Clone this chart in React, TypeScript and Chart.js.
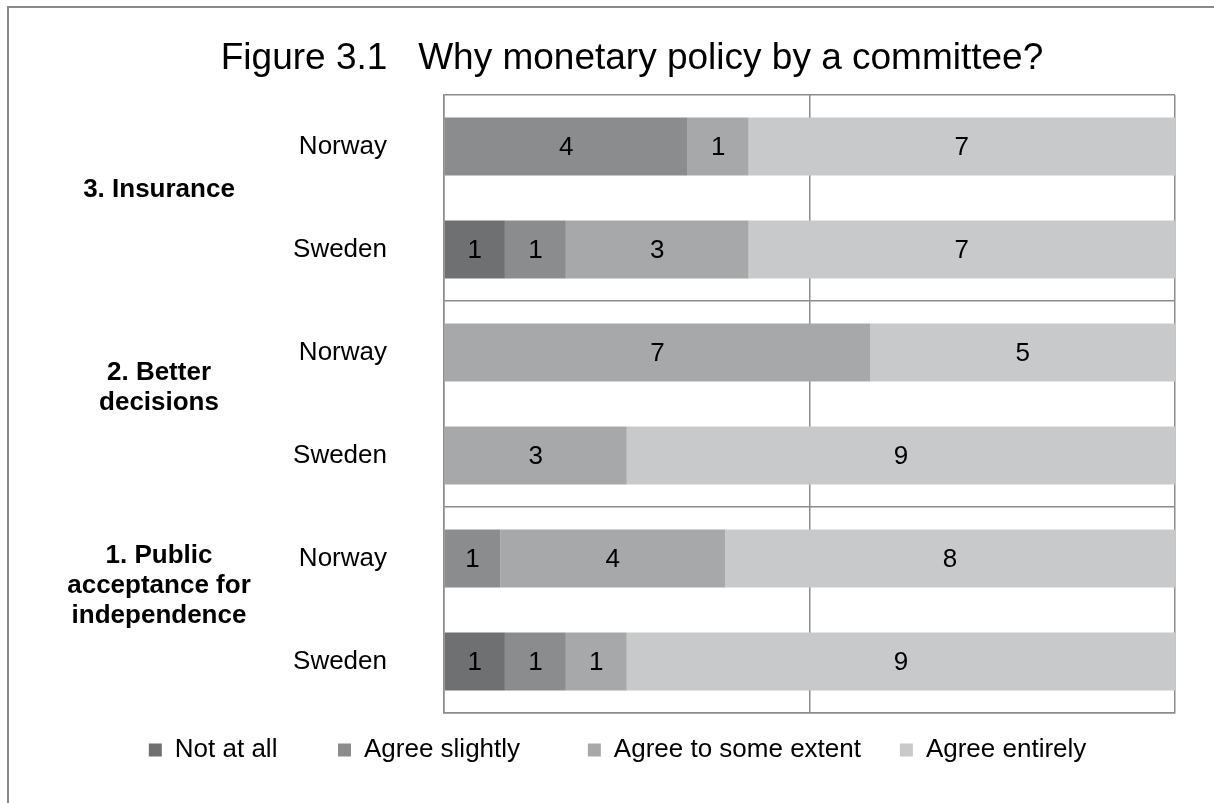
import React, { useEffect, useRef } from 'react';
import { Chart, registerables } from 'chart.js';

Chart.register(...registerables);

const categories = ['Norway', 'Sweden', 'Norway', 'Sweden', 'Norway', 'Sweden'];
const groupLabels = [['3. Insurance'], ['2. Better', 'decisions'], ['1. Public', 'acceptance for', 'independence']];
const seriesNames = ['Not at all', 'Agree slightly', 'Agree to some extent', 'Agree entirely'];
const notAtAll = [0, 1, 0, 0, 0, 1];
const agreeSlightly = [4, 1, 0, 0, 1, 1];
const agreeSomeExtent = [1, 3, 7, 3, 4, 1];
const agreeEntirely = [7, 7, 5, 9, 8, 9];
const titleText = 'Figure 3.1   Why monetary policy by a committee?';

const seriesColors = ['#6e7072', '#8a8c8e', '#a6a8a9', '#c8c9cb'];
const GRID = '#8c8c8c';
const FONT = '"Liberation Sans", Arial, sans-serif';
const legendGaps = [7, 8, 4, 4];

export default function App() {
  const ref = useRef<HTMLCanvasElement | null>(null);

  useEffect(() => {
    if (!ref.current) return;
    Chart.defaults.font.family = FONT;
    const counts = [notAtAll, agreeSlightly, agreeSomeExtent, agreeEntirely];
    const totals = categories.map((_, i) => counts.reduce((s, a) => s + a[i], 0));

    const valueLabels = {
      id: 'valueLabels',
      afterDatasetsDraw(chart: any) {
        const ctx = chart.ctx;
        ctx.save();
        ctx.font = `26px ${FONT}`;
        ctx.fillStyle = '#000';
        ctx.textAlign = 'center';
        ctx.textBaseline = 'middle';
        chart.data.datasets.forEach((_ds: any, k: number) => {
          const meta = chart.getDatasetMeta(k);
          meta.data.forEach((el: any, i: number) => {
            const c = counts[k][i];
            if (!c) return;
            const p = el.getProps(['x', 'y', 'base'], true);
            ctx.fillText(String(c), (p.x + p.base) / 2, p.y + 1);
          });
        });
        ctx.restore();
      },
    };

    const groupLabelPlugin = {
      id: 'groupLabels',
      afterDraw(chart: any) {
        const ctx = chart.ctx;
        const ys = chart.scales.y;
        ctx.save();
        ctx.font = `bold 26px ${FONT}`;
        ctx.fillStyle = '#000';
        ctx.textAlign = 'center';
        ctx.textBaseline = 'middle';
        groupLabels.forEach((lines, g) => {
          const a = ys.getPixelForTick(g * 2);
          const b = ys.getPixelForTick(g * 2 + 1);
          const cy = (a + b) / 2 - 8 * lines.length;
          const lh = 30;
          lines.forEach((t, j) => {
            ctx.fillText(t, 150, cy + (j - (lines.length - 1) / 2) * lh);
          });
        });
        ctx.restore();
      },
    };

    const chart = new Chart(ref.current, {
      type: 'bar',
      data: {
        labels: categories,
        datasets: counts.map((arr, k) => ({
          label: seriesNames[k],
          data: arr.map((v, i) => (v / totals[i]) * 100),
          backgroundColor: seriesColors[k],
          borderWidth: 0,
          barPercentage: 0.565,
          categoryPercentage: 1,
        })),
      },
      options: {
        indexAxis: 'y',
        animation: false,
        responsive: false,
        devicePixelRatio: 1,
        layout: { padding: { left: 0, right: 0, top: 0, bottom: 35 } },
        scales: {
          x: {
            stacked: true,
            min: 0,
            max: 100,
            ticks: { display: false, stepSize: 50 },
            grid: { color: GRID, lineWidth: 1.5, drawTicks: false },
            border: { display: true, color: GRID, width: 1.5 },
            afterFit: (s: any) => { s.height = 14; },
          },
          y: {
            stacked: true,
            ticks: { color: '#000', font: { size: 26 }, padding: 57 },
            grid: {
              offset: true,
              drawTicks: false,
              lineWidth: 1.5,
              color: (ctx: any) => (ctx.type === 'tick' && ctx.index % 2 === 1 ? 'rgba(0,0,0,0)' : GRID),
            },
            border: { display: true, color: GRID, width: 1.5 },
            afterFit: (s: any) => { s.width = 435; },
          },
          yRight: {
            type: 'linear',
            axis: 'y',
            position: 'right',
            grid: { display: false },
            ticks: { display: false },
            border: { display: false },
            afterFit: (s: any) => { s.width = 80; },
          },
        } as any,
        plugins: {
          title: {
            display: true,
            text: titleText,
            color: '#000',
            font: { size: 37, weight: 'normal' },
            padding: { top: 28.8, bottom: 13.8 },
          },
          legend: {
            position: 'bottom',
            labels: {
              color: '#000',
              font: { size: 26 },
              boxWidth: 13,
              boxHeight: 13,
              padding: 10,
              generateLabels: (c: any) =>
                (Chart.defaults.plugins.legend.labels as any).generateLabels(c).map((item: any, i: number) => ({
                  ...item,
                  text: item.text + '\u00a0'.repeat(legendGaps[i] || 0),
                })),
            },
          },
          tooltip: { enabled: false },
        },
      } as any,
      plugins: [valueLabels, groupLabelPlugin],
    });
    return () => chart.destroy();
  }, []);

  return (
    <div
      style={{
        position: 'absolute',
        left: 7,
        top: 6,
        width: 1205,
        height: 795,
        borderLeft: '2px solid #8a8a8a',
        borderTop: '2px solid #8a8a8a',
        overflow: 'hidden',
        background: '#fff',
      }}
    >
      <canvas ref={ref} width={1246} height={800} style={{ display: 'block' }} />
    </div>
  );
}
